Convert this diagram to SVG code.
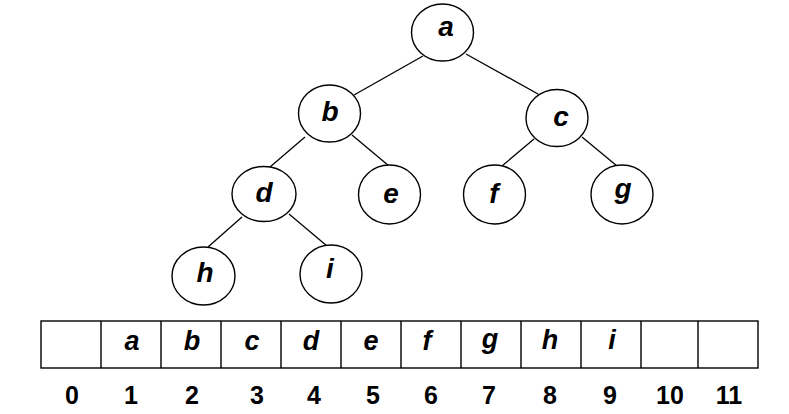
<svg xmlns="http://www.w3.org/2000/svg" width="789" height="414" viewBox="0 0 789 414">
<style>
.node ellipse{fill:#fff;stroke:#000;stroke-width:1.4}
.lbl{font-family:"Liberation Sans",Arial,sans-serif;font-size:28px;font-weight:bold;font-style:italic;text-anchor:middle;fill:#000}
.alb{font-family:"Liberation Sans",Arial,sans-serif;font-size:27px;font-weight:bold;font-style:italic;text-anchor:middle;fill:#000}
.num{font-family:"Liberation Sans",Arial,sans-serif;font-size:25px;font-weight:bold;text-anchor:middle;fill:#000}
#connectors line{stroke:#000;stroke-width:1.3}
.cell{fill:#fff;stroke:#000;stroke-width:1.4}
</style>
<rect width="789" height="414" fill="#fff"/>
<g id="connectors">
<line x1="423" y1="56" x2="354" y2="95"/>
<line x1="466" y1="54" x2="538" y2="94"/>
<line x1="305" y1="137" x2="270" y2="167"/>
<line x1="352" y1="135" x2="389" y2="166"/>
<line x1="534" y1="139" x2="502" y2="166"/>
<line x1="582" y1="137" x2="617" y2="166"/>
<line x1="242" y1="217" x2="208" y2="247"/>
<line x1="289" y1="214" x2="327" y2="246"/>
</g>
<g id="node-a" class="node"><ellipse cx="442.5" cy="32.5" rx="31" ry="28.5"/><text class="lbl" x="446" y="36">a</text></g>
<g id="node-b" class="node"><ellipse cx="329.5" cy="113.5" rx="31" ry="28.5"/><text class="lbl" x="330" y="121">b</text></g>
<g id="node-c" class="node"><ellipse cx="557" cy="118" rx="31" ry="28.5"/><text class="lbl" x="561" y="126">c</text></g>
<g id="node-d" class="node"><ellipse cx="264" cy="194" rx="32" ry="27.5"/><text class="lbl" x="264" y="201.5">d</text></g>
<g id="node-e" class="node"><ellipse cx="389.5" cy="194.5" rx="31" ry="29.5"/><text class="lbl" x="391" y="203">e</text></g>
<g id="node-f" class="node"><ellipse cx="494.5" cy="194.5" rx="31" ry="29.5"/><text class="lbl" x="494" y="203">f</text></g>
<g id="node-g" class="node"><ellipse cx="622" cy="194.5" rx="31" ry="29.5"/><text class="lbl" x="623" y="198">g</text></g>
<g id="node-h" class="node"><ellipse cx="203.5" cy="276" rx="31.5" ry="29"/><text class="lbl" x="205" y="282">h</text></g>
<g id="node-i" class="node"><ellipse cx="331" cy="274" rx="31" ry="29"/><text class="lbl" x="330" y="278">i</text></g>
<g id="array">
<rect class="cell" x="41" y="321" width="717" height="47"/>
<path d="M101 321V368M161 321V368M221 321V368M281 321V368M341 321V368M401 321V368M461 321V368M521 321V368M581 321V368M641 321V368M698 321V368" stroke="#000" stroke-width="1.4" fill="none"/>
<text class="alb" x="132" y="350">a</text>
<text class="alb" x="192" y="350">b</text>
<text class="alb" x="252" y="350">c</text>
<text class="alb" x="311" y="350">d</text>
<text class="alb" x="371" y="350">e</text>
<text class="alb" x="427" y="350">f</text>
<text class="alb" x="490" y="348">g</text>
<text class="alb" x="550" y="349">h</text>
<text class="alb" x="612" y="349">i</text>
<text class="num" x="72" y="404">0</text>
<text class="num" x="131" y="404">1</text>
<text class="num" x="192" y="404">2</text>
<text class="num" x="257" y="404">3</text>
<text class="num" x="314" y="404">4</text>
<text class="num" x="373" y="404">5</text>
<text class="num" x="431" y="404">6</text>
<text class="num" x="489" y="404">7</text>
<text class="num" x="550" y="404">8</text>
<text class="num" x="610" y="404">9</text>
<text class="num" x="670" y="404">10</text>
<text class="num" x="729" y="404">11</text>
</g>
</svg>
